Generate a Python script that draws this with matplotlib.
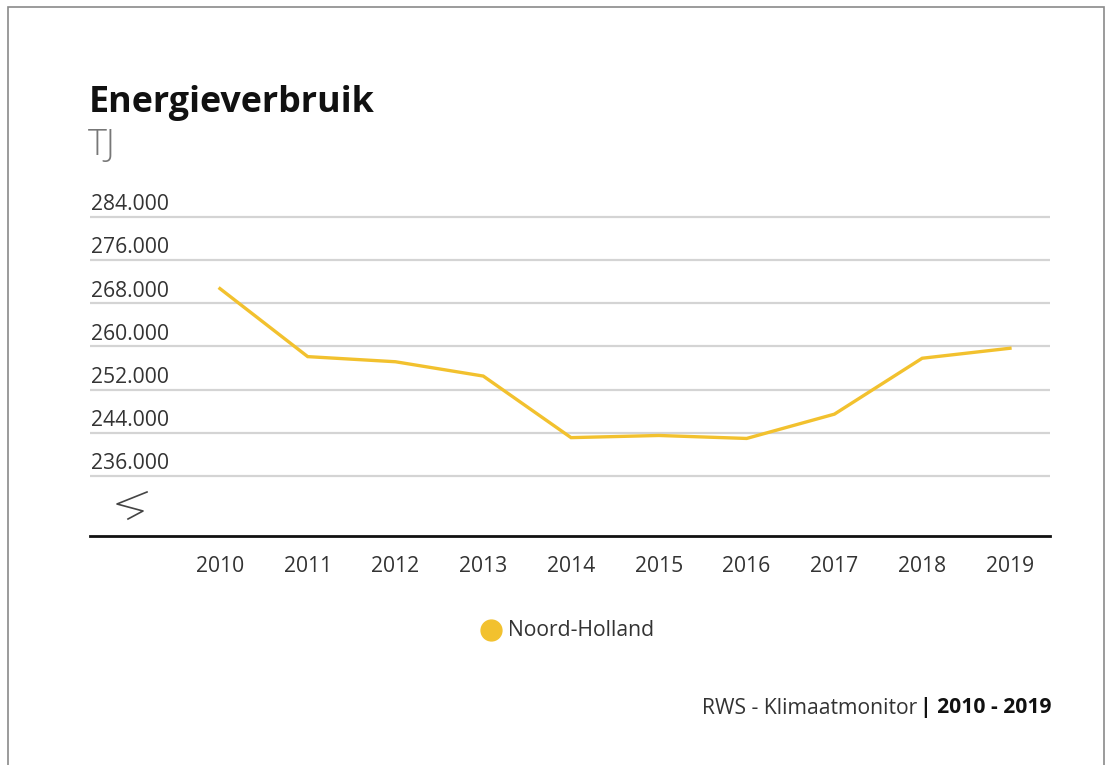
import matplotlib
matplotlib.use('Agg')
import matplotlib.pyplot as plt
from matplotlib.lines import Line2D
from matplotlib.patches import Rectangle

# data
years = [2010, 2011, 2012, 2013, 2014, 2015, 2016, 2017, 2018, 2019]
verbruik = [270700, 258100, 257150, 254500, 243100, 243500, 242950, 247450, 257800, 259650]
ytick_vals = [236000, 244000, 252000, 260000, 268000, 276000, 284000]
ytick_labels = ['236.000', '244.000', '252.000', '260.000', '268.000', '276.000', '284.000']
serie_naam = 'Noord-Holland'

line_color = '#f2c12e'
grid_color = '#d4d4d4'
text_color = '#333333'
fs = 15.2
plt.rcParams['font.family'] = ['Open Sans', 'DejaVu Sans']

W, H = 1120, 765
fig = plt.figure(figsize=(W / 100, H / 100), dpi=100, facecolor='white')

def fx(px): return px / W
def fy(py): return 1 - py / H

# outer frame (open at the bottom)
fig.add_artist(Rectangle((fx(8), fy(800)), fx(1104) - fx(8), fy(7) - fy(800),
                         transform=fig.transFigure, fill=False, edgecolor='#8a8a8a', lw=1.2))

ax = fig.add_axes([fx(90), fy(536), fx(1050) - fx(90), fy(215) - fy(536)])
ax.set_xlim(2008.52, 2019.456)
ax.set_ylim(224890, 284320)
for s in ax.spines.values():
    s.set_visible(False)
ax.set_xticks([])
ax.set_yticks([])

for v in ytick_vals:
    ax.axhline(v, color=grid_color, lw=1.6, zorder=1)
ax.axhline(224890, color='#111111', lw=2, zorder=2, clip_on=False)

ax.plot(years, verbruik, color=line_color, lw=2.4, zorder=3, solid_joinstyle='miter')

# y labels, above their gridlines
for v, lab in zip(ytick_vals, ytick_labels):
    ax.annotate(lab, xy=(0, v), xycoords=('axes fraction', 'data'), xytext=(1, 12),
                textcoords='offset pixels', ha='left', va='center', fontsize=fs, color=text_color)

# x labels
for yr in years:
    ax.annotate(str(yr), xy=(yr, 0), xycoords=('data', 'axes fraction'), xytext=(0, -31),
                textcoords='offset pixels', ha='center', va='center', fontsize=fs, color=text_color)

# axis break mark
fig.add_artist(Line2D([fx(147), fx(117), fx(143), fx(128)], [fy(492), fy(504), fy(511), fy(519)],
                      transform=fig.transFigure, color='#444444', lw=1.2))

# title
fig.text(fx(89), fy(103), 'Energieverbruik', fontsize=25.8, fontweight='bold', color='#111111',
         ha='left', va='center')
fig.text(fx(88), fy(146), 'TJ', fontsize=26, fontweight='light', color='#777777', ha='left', va='center')

# legend
fig.add_artist(Line2D([fx(491)], [fy(630)], transform=fig.transFigure, marker='o', markersize=15,
                      color=line_color, lw=0))
fig.text(fx(508), fy(630), serie_naam, fontsize=fs, color=text_color, ha='left', va='center')

# source
t2 = fig.text(fx(1051), fy(708), '| 2010 - 2019', fontsize=fs, fontweight='bold', color='#111111',
              ha='right', va='center')
fig.canvas.draw()
bb = t2.get_window_extent()
fig.text(bb.x0 / W - fx(2), fy(708), 'RWS - Klimaatmonitor', fontsize=fs, color=text_color,
         ha='right', va='center')

fig.savefig('out.png', dpi=100, facecolor='white')
